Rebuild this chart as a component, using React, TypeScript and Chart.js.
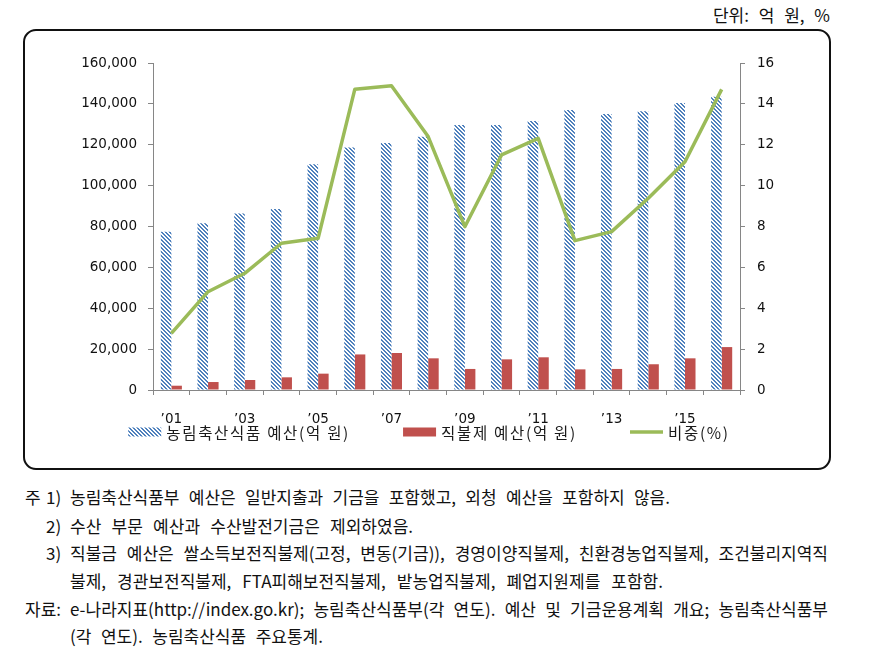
import React, { useEffect, useRef } from "react";
import { Chart, registerables } from "chart.js";

Chart.register(...registerables);

// ---- data ----
const categories = ["’01", "’02", "’03", "’04", "’05", "’06", "’07", "’08", "’09", "’10", "’11", "’12", "’13", "’14", "’15", "’16"];
const budget = [77400, 81600, 86400, 88600, 110400, 118700, 120800, 123900, 129700, 129700, 131600, 137000, 135100, 136400, 140400, 143500];
const directPay = [2100, 3900, 4900, 6200, 8000, 17400, 18100, 15500, 10300, 15000, 16000, 10100, 10300, 12600, 15500, 21000];
const ratio = [2.77, 4.81, 5.71, 7.18, 7.42, 14.71, 14.89, 12.4, 7.99, 11.5, 12.31, 7.31, 7.75, 9.38, 11.17, 14.71];
const seriesLabels = ["농림축산식품 예산(억 원)", "직불제 예산(억 원)", "비중(%)"];
const leftTicks = { min: 0, max: 160000, step: 20000 };
const rightTicks = { min: 0, max: 16, step: 2 };

const unitText = "단위: 억 원, %";
const notes: { label?: string; num?: string; text: string }[] = [
  { label: "주", num: "1)", text: "농림축산식품부 예산은 일반지출과 기금을 포함했고, 외청 예산을 포함하지 않음." },
  { num: "2)", text: "수산 부문 예산과 수산발전기금은 제외하였음." },
  { num: "3)", text: "직불금 예산은 쌀소득보전직불제(고정, 변동(기금)), 경영이양직불제, 친환경농업직불제, 조건불리지역직" },
  { text: "불제, 경관보전직불제, FTA피해보전직불제, 밭농업직불제, 폐업지원제를 포함함." },
  { label: "자료:", text: "e-나라지표(http://index.go.kr); 농림축산식품부(각 연도). 예산 및 기금운용계획 개요; 농림축산식품부" },
  { text: "(각 연도). 농림축산식품 주요통계." },
];
const noteWidths = [600, 343, 758, 593, 758, 253];

const BLUE = "#4F81BD";
const RED = "#C0504D";
const GREEN = "#9BBB59";
const AXIS = "#868686";
const TICK_FONT = { family: '"DejaVu Sans", Verdana, sans-serif', size: 13.5 };
const KR = '"Noto Sans CJK KR", "Noto Sans", sans-serif';

function makeHatch(): CanvasPattern | string {
  const c = document.createElement("canvas");
  c.width = 4;
  c.height = 4;
  const g = c.getContext("2d");
  if (!g) return BLUE;
  const img = g.createImageData(4, 4);
  for (let y = 0; y < 4; y++) {
    for (let x = 0; x < 4; x++) {
      const k = (((x - y) % 4) + 4) % 4;
      const i = (y * 4 + x) * 4;
      if (k === 0 || k === 1) {
        img.data[i] = 0x4f; img.data[i + 1] = 0x81; img.data[i + 2] = 0xbd;
      } else {
        img.data[i] = 255; img.data[i + 1] = 255; img.data[i + 2] = 255;
      }
      img.data[i + 3] = 255;
    }
  }
  g.putImageData(img, 0, 0);
  const p = g.createPattern(c, "repeat");
  return p || BLUE;
}

const legendPlugin = {
  id: "customLegend",
  afterDraw(chart: any) {
    const ctx = chart.ctx as CanvasRenderingContext2D;
    const ds = chart.data.datasets;
    ctx.save();
    ctx.font = `15.5px ${KR}`;
    (ctx as any).letterSpacing = "1.7px";
    const boxW = 33, gap = 5, itemGap = 53;
    const widths = ds.map((d: any) => ctx.measureText(d.label).width);
    const total = widths.reduce((a: number, w: number) => a + boxW + gap + w, 0) + itemGap * (ds.length - 1);
    let x = (chart.width - total) / 2 + 2;
    const y = chart.chartArea.bottom + 42;
    ds.forEach((d: any, i: number) => {
      if (d.type === "line") {
        ctx.strokeStyle = d.borderColor;
        ctx.lineWidth = 3.5;
        ctx.beginPath();
        ctx.moveTo(x, y);
        ctx.lineTo(x + boxW, y);
        ctx.stroke();
      } else {
        ctx.fillStyle = d.backgroundColor;
        ctx.fillRect(x, y - 4.5, boxW, 9);
      }
      ctx.fillStyle = "#1a1a1a";
      ctx.textBaseline = "middle";
      ctx.textAlign = "left";
      ctx.fillText(d.label, x + boxW + gap, y + 1);
      x += boxW + gap + widths[i] + itemGap;
    });
    ctx.restore();
  },
};

export default function App() {
  const ref = useRef<HTMLCanvasElement>(null);

  useEffect(() => {
    if (!ref.current) return;
    const hatch = makeHatch();
    const chart = new Chart(ref.current, {
      type: "bar",
      data: {
        labels: categories,
        datasets: [
          {
            type: "bar",
            label: seriesLabels[0],
            data: budget,
            backgroundColor: hatch as any,
            borderWidth: 0,
            yAxisID: "y",
            order: 2,
            categoryPercentage: 0.575,
            barPercentage: 1,
          },
          {
            type: "bar",
            label: seriesLabels[1],
            data: directPay,
            backgroundColor: RED,
            borderWidth: 0,
            yAxisID: "y",
            order: 2,
            categoryPercentage: 0.575,
            barPercentage: 1,
          },
          {
            type: "line",
            label: seriesLabels[2],
            data: ratio,
            borderColor: GREEN,
            backgroundColor: GREEN,
            borderWidth: 3.5,
            pointRadius: 0,
            tension: 0,
            borderJoinStyle: "round",
            yAxisID: "y1",
            order: 1,
          } as any,
        ],
      },
      options: {
        animation: false,
        responsive: false,
        maintainAspectRatio: false,
        layout: { padding: { top: 32, left: 0, right: 0, bottom: 0 } },
        plugins: { legend: { display: false }, tooltip: { enabled: false } },
        scales: {
          x: {
            offset: true,
            grid: { display: true, drawOnChartArea: false, drawTicks: true, tickLength: 5, color: AXIS, offset: true },
            border: { display: true, color: AXIS },
            ticks: {
              autoSkip: false,
              maxRotation: 0,
              minRotation: 0,
              padding: 16,
              color: "#111",
              font: TICK_FONT,
              callback: (_v: any, i: number) => (i % 2 === 0 ? categories[i] : ""),
            },
            afterFit: (s: any) => { s.height = 79; },
          },
          y: {
            position: "left",
            min: leftTicks.min,
            max: leftTicks.max,
            grid: { drawOnChartArea: false, tickLength: 5, color: AXIS },
            border: { display: true, color: AXIS },
            ticks: {
              stepSize: leftTicks.step,
              padding: 11,
              color: "#111",
              font: TICK_FONT,
              callback: (v: any) => Number(v).toLocaleString("en-US"),
            },
            afterFit: (s: any) => { s.width = 129; },
          },
          y1: {
            position: "right",
            min: rightTicks.min,
            max: rightTicks.max,
            grid: { drawOnChartArea: false, tickLength: 5, color: AXIS },
            border: { display: true, color: AXIS },
            ticks: { stepSize: rightTicks.step, padding: 12, color: "#111", font: TICK_FONT },
            afterFit: (s: any) => { s.width = 90; },
          },
        },
      } as any,
      plugins: [legendPlugin],
    });
    return () => chart.destroy();
  }, []);

  const noteTops = [485, 514, 541, 569, 597, 624];

  return (
    <div style={{ position: "absolute", left: 0, top: 0, width: 878, height: 672, background: "#fff", overflow: "hidden" }}>
      <div
        style={{
          position: "absolute",
          right: 878 - 830,
          top: 2,
          fontFamily: KR,
          fontSize: 17,
          lineHeight: "26px",
          wordSpacing: 6,
          color: "#111",
          whiteSpace: "nowrap",
        }}
      >
        {unitText}
      </div>
      <div
        style={{
          position: "absolute",
          left: 23,
          top: 29,
          width: 808,
          height: 441,
          boxSizing: "border-box",
          border: "2px solid #111",
          borderRadius: 13,
        }}
      />
      <canvas
        ref={ref}
        width={806}
        height={438}
        style={{ position: "absolute", left: 24, top: 31, width: 806, height: 438 }}
      />
      {notes.map((n, i) => (
        <div
          key={i}
          style={{
            position: "absolute",
            left: 0,
            top: noteTops[i],
            width: 878,
            height: 24,
            fontFamily: KR,
            fontSize: 17,
            lineHeight: "24px",
            color: "#111",
            whiteSpace: "nowrap",
          }}
        >
          {n.label && <span style={{ position: "absolute", left: 25 }}>{n.label}</span>}
          {n.num && <span style={{ position: "absolute", left: 46 }}>{n.num}</span>}
          <span
            style={{
              position: "absolute",
              left: 70,
              width: noteWidths[i],
              display: "block",
              textAlign: "justify",
              textAlignLast: "justify",
              whiteSpace: "nowrap",
            }}
          >
            {n.text}
          </span>
        </div>
      ))}
    </div>
  );
}
